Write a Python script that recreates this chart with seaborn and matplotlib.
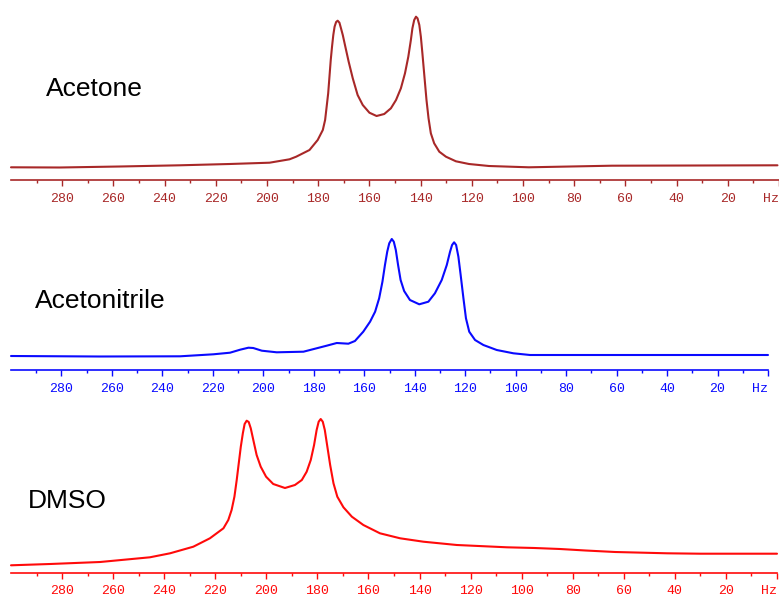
import matplotlib
matplotlib.use("Agg")
import matplotlib.pyplot as plt
import seaborn as sns
import pandas as pd

# ---- spectra: frequency (Hz) and signal intensity (arbitrary units) ----
acetone_hz = [300, 281, 257.5, 234.1, 214.6, 199.0, 191.2, 188.6, 183.4, 180.2,
              178.2, 177.3, 176.7, 176.1, 175.6, 175.1, 174.6, 174.1, 173.6, 173.0,
              172.4, 171.7, 171.1, 170.4, 169.4, 168.1, 166.5, 164.6, 162.6, 160.0,
              157.2, 154.2, 151.6, 149.6, 147.7, 146.1, 144.8, 143.8, 143.2, 142.5,
              141.8, 141.2, 140.5, 139.9, 139.3, 138.5, 137.7, 136.9, 136.0, 134.7,
              132.7, 130.1, 126.2, 121.1, 113.3, 97.7, 65.3, 31.4, 0.6]
acetone_int = [12.7, 12.5, 13.5, 14.7, 16.0, 17.3, 20.7, 23.3, 30.0, 40.0,
               50.0, 60.0, 73.3, 86.7, 103.3, 120.0, 133.3, 145.0, 153.3, 158.0,
               159.3, 157.3, 151.7, 145.0, 133.3, 118.3, 101.7, 85.0, 75.0, 67.3,
               64.0, 66.0, 71.7, 80.0, 91.7, 106.7, 123.3, 140.0, 151.7, 160.0,
               163.3, 161.7, 155.0, 143.3, 126.7, 103.3, 80.0, 61.7, 46.7, 36.7,
               28.3, 23.3, 18.7, 16.0, 14.0, 12.7, 14.3, 14.5, 14.7]

acetonitrile_hz = [300, 265.0, 233.0, 219.8, 213.2, 209.2, 205.9, 204.0, 200.6, 194.7,
                   184.1, 174.9, 170.9, 166.3, 163.7, 160.4, 157.7, 155.7, 154.1, 152.8,
                   151.8, 150.9, 150.1, 149.1, 148.3, 147.5, 146.6, 145.6, 144.2, 141.9,
                   138.2, 134.6, 132.0, 129.3, 127.3, 126.0, 125.2, 124.4, 123.6, 122.7,
                   121.8, 120.7, 119.7, 118.4, 116.1, 112.8, 107.5, 100.9, 94.3, 66.5, 0]
acetonitrile_int = [14.0, 13.5, 13.7, 15.7, 17.3, 20.3, 22.3, 22.0, 19.3, 17.7,
                    18.3, 24.3, 27.0, 26.3, 29.0, 38.3, 48.3, 58.3, 71.7, 88.3,
                    105.0, 118.3, 126.7, 131.0, 128.3, 120.0, 105.0, 90.0, 79.0, 70.0,
                    65.7, 68.3, 76.7, 90.0, 105.0, 118.3, 125.0, 127.7, 125.0, 113.3,
                    95.0, 71.7, 51.7, 38.3, 30.0, 25.0, 20.0, 16.7, 15.0, 15.0, 15.0]

dmso_hz = [300, 284.7, 265.1, 245.6, 237.7, 228.6, 222.1, 216.8, 214.9, 213.6,
           212.5, 211.6, 210.8, 210.0, 209.2, 208.5, 207.7, 206.9, 206.1, 205.1,
           203.8, 202.2, 200.1, 197.3, 192.7, 188.8, 186.1, 184.2, 182.6, 181.3,
           180.3, 179.5, 178.7, 177.9, 177.1, 176.1, 175.0, 173.7, 172.2, 169.8,
           166.5, 162.0, 155.5, 147.6, 138.5, 125.4, 105.8, 95.0, 85.0, 75.0,
           63.4, 43.0, 30.1, 0]
dmso_int = [7.7, 9.0, 11.0, 15.7, 19.7, 26.3, 34.7, 44.7, 53.0, 63.0,
            76.3, 93.0, 109.7, 126.3, 139.7, 149.0, 152.3, 151.0, 144.7, 133.0,
            118.0, 106.3, 96.3, 89.0, 85.0, 88.0, 93.0, 101.3, 113.0, 128.0,
            143.0, 151.3, 154.0, 151.3, 143.0, 126.3, 108.0, 89.7, 76.3, 65.7,
            56.3, 48.0, 39.7, 34.7, 31.3, 28.0, 25.7, 25.0, 24.0, 22.5,
            21.0, 19.7, 19.3, 19.3]

solvents = ["Acetone", "Acetonitrile", "DMSO"]
colors = ["#a82828", "#0a0aff", "#ff0a0a"]

major_ticks = [280, 260, 240, 220, 200, 180, 160, 140, 120, 100, 80, 60, 40, 20, 0]
major_labels = ["280", "260", "240", "220", "200", "180", "160", "140", "120",
                "100", "80", "60", "40", "20", "Hz"]
minor_ticks = [290, 270, 250, 230, 210, 190, 170, 150, 130, 110, 90, 70, 50, 30, 10]

spectra = [(acetone_hz, acetone_int), (acetonitrile_hz, acetonitrile_int),
           (dmso_hz, dmso_int)]

sns.set_theme(style="white")
plt.rcParams["font.family"] = ["Liberation Sans", "DejaVu Sans"]

W, H = 779, 597
fig = plt.figure(figsize=(W / 100, H / 100), dpi=100)

# panel frames in pixels: (left, right, axis line y, top y)
frames = [(11, 779, 180, 0), (11, 768, 370, 200), (11, 777, 573, 390)]
label_pos = [(46, 89), (35, 301), (28, 501)]

for (hz, inten), name, col, (xl, xr, yb, yt), (lx, ly) in zip(
        spectra, solvents, colors, frames, label_pos):
    ax = fig.add_axes([xl / W, (H - yb) / H, (xr - xl) / W, (yb - yt) / H])
    df = pd.DataFrame({"Hz": hz, "intensity": inten})
    sns.lineplot(data=df, x="Hz", y="intensity", ax=ax, color=col,
                 linewidth=1.5, estimator=None, sort=True, clip_on=False)
    ax.set_xlim(300, 0)
    ax.set_ylim(0, yb - yt)
    ax.set_xlabel("")
    ax.set_ylabel("")
    ax.set_yticks([])
    for s in ("left", "right", "top"):
        ax.spines[s].set_visible(False)
    ax.spines["bottom"].set_color(col)
    ax.spines["bottom"].set_linewidth(1.2)
    ax.set_xticks(major_ticks)
    ax.set_xticklabels(major_labels)
    ax.set_xticks(minor_ticks, minor=True)
    ax.tick_params(axis="x", which="major", direction="out", length=4.5,
                   width=1.0, color=col, labelcolor=col, pad=4.5,
                   labelsize=9.5, bottom=True)
    ax.tick_params(axis="x", which="minor", direction="out", length=2.2,
                   width=1.0, color=col, bottom=True)
    for t in ax.get_xticklabels():
        t.set_fontfamily(["Liberation Mono", "DejaVu Sans Mono"])
    ax.get_xticklabels()[-1].set_horizontalalignment("right")
    ax.patch.set_alpha(0)
    fig.text(lx / W, 1 - ly / H, name, ha="left", va="center",
             fontsize=19, color="black")

fig.savefig("out.png", dpi=100)
